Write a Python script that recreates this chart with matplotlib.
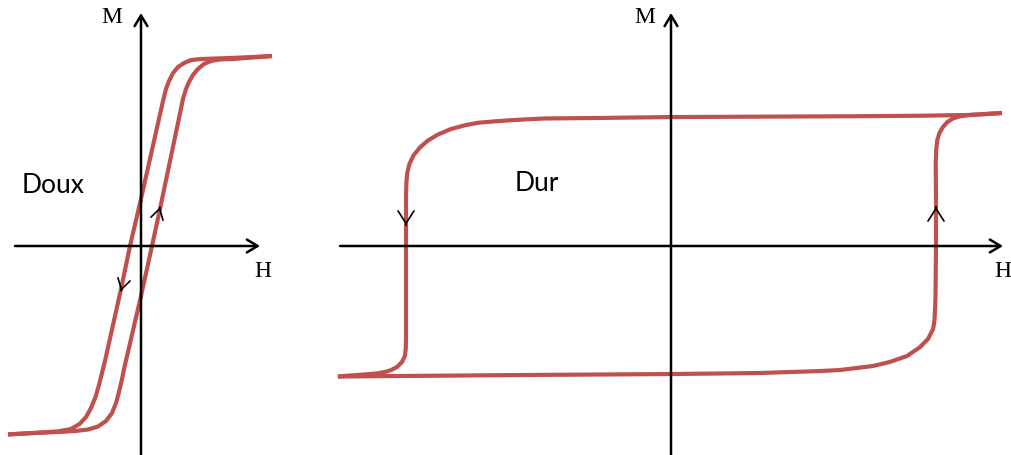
import matplotlib
matplotlib.use("Agg")
import matplotlib.pyplot as plt

# ---------------- data ----------------
# Soft magnet ("Doux"): H in units of coercive field, M in units of saturation
soft_desc_H = [11.909, 8.273, 6.727, 5.364, 4.545, 3.909, 3.364, 2.909, 2.545, 2.273, 2.0,
               0.0, -1.0, -1.818, -3.273, -3.545, -3.818, -4.136, -4.545, -5.0, -5.591,
               -6.364, -7.545, -9.636, -12.091]
soft_desc_M = [1.005, 0.995, 0.992, 0.989, 0.984, 0.968, 0.947, 0.915, 0.873, 0.831, 0.767,
               0.249, 0.0, -0.228, -0.608, -0.672, -0.735, -0.799, -0.857, -0.905, -0.942,
               -0.968, -0.981, -0.989, -0.997]
soft_asc_H = [-12.091, -9.636, -7.545, -6.0, -4.818, -3.909, -3.182, -2.636, -2.273, -2.0,
              -1.727, -1.545, 0.0, 1.0, 1.727, 3.818, 4.091, 4.364, 4.727, 5.182, 5.727,
              6.364, 7.182, 8.273, 11.909]
soft_asc_M = [-0.997, -0.989, -0.984, -0.979, -0.971, -0.955, -0.926, -0.884, -0.831, -0.772,
              -0.704, -0.651, -0.265, 0.0, 0.196, 0.778, 0.831, 0.868, 0.905, 0.937, 0.963,
              0.979, 0.987, 0.989, 1.005]

# Hard magnet ("Dur")
hard_desc_H = [1.249, 1.185, 1.128, 0.940, 0.675, 0.0, -0.268, -0.475, -0.540, -0.600, -0.664,
               -0.728, -0.777, -0.830, -0.879, -0.917, -0.947, -0.972, -0.987, -0.995, -0.998,
               -1.0, -1.0, -1.0, -1.001, -1.004, -1.015, -1.034, -1.057, -1.079, -1.106,
               -1.155, -1.211, -1.257]
hard_desc_M = [1.023, 1.015, 1.008, 1.002, 0.998, 0.992, 0.985, 0.981, 0.975, 0.968, 0.959,
               0.948, 0.929, 0.9, 0.858, 0.812, 0.759, 0.696, 0.631, 0.565, 0.5,
               0.4, 0.0, -0.715, -0.792, -0.846, -0.892, -0.931, -0.955, -0.969, -0.979,
               -0.988, -0.996, -1.004]
hard_asc_H = [-1.257, -1.023, -0.532, 0.0, 0.336, 0.562, 0.638, 0.702, 0.762, 0.826, 0.891,
              0.940, 0.970, 0.989, 0.994, 0.996, 0.998, 1.0, 1.0, 0.999, 1.001, 1.005, 1.013,
              1.026, 1.043, 1.064, 1.091, 1.128, 1.185, 1.249]
hard_asc_M = [-1.004, -1.0, -0.992, -0.985, -0.977, -0.962, -0.954, -0.938, -0.923, -0.892,
              -0.846, -0.777, -0.715, -0.638, -0.577, -0.5, -0.408, 0.0, 0.362, 0.631, 0.746,
              0.815, 0.869, 0.915, 0.954, 0.981, 0.998, 1.008, 1.015, 1.023]

# direction chevrons: (H, M, dH, dM) apex and travel direction
soft_arrows = [(1.73, 0.206, 0.22, 0.99), (-1.82, -0.238, -0.22, -0.99)]
hard_arrows = [(1.0, 0.30, 0.0, 1.0), (-1.0, 0.162, 0.0, -1.0)]

labels = {"soft": "Doux", "hard": "Dur"}

RED = "#C0504D"
W, Hpx = 1012, 456

fig = plt.figure(figsize=(W / 100, Hpx / 100), dpi=100)
fig.patch.set_facecolor("white")

# left panel: pixel x 0..290 ; origin at (141,247); 11 px per H unit, 189 px per M unit
axL = fig.add_axes([0, 0, 290 / W, 1])
axL.set_xlim((0 - 141) / 11, (290 - 141) / 11)
axL.set_ylim((247 - 456) / 189, 247 / 189)
# right panel: pixel x 310..1012 ; origin at (671,247); 265 px per H unit, 130 px per M unit
axR = fig.add_axes([310 / W, 0, 702 / W, 1])
axR.set_xlim((310 - 671) / 265, (1012 - 671) / 265)
axR.set_ylim((247 - 456) / 130, 247 / 130)

for ax in (axL, axR):
    ax.axis("off")

soft_chev = dict(arrowstyle="->,head_length=0.5,head_width=0.3", color="black",
                 lw=1.2, shrinkA=0, shrinkB=0, mutation_scale=15)
hard_chev = dict(arrowstyle="->,head_length=0.5,head_width=0.32", color="black",
                 lw=1.2, shrinkA=0, shrinkB=0, mutation_scale=18)
axis_arrow = dict(arrowstyle="->,head_length=0.55,head_width=0.33", color="black",
                  lw=1.8, shrinkA=0, shrinkB=0, mutation_scale=14)


def draw_axes(ax, hmin, hmax, mmin, mmax):
    ax.annotate("", xy=(hmax, 0), xytext=(hmin, 0), arrowprops=axis_arrow,
                annotation_clip=False, zorder=5)
    ax.annotate("", xy=(0, mmax), xytext=(0, mmin), arrowprops=axis_arrow,
                annotation_clip=False, zorder=5)


def draw_chevrons(ax, arrows, sx, sy, props):
    for h, m, dh, dm in arrows:
        ax.annotate("", xy=(h, m), xytext=(h - dh * 0.02 * sx, m - dm * 0.02 * sy),
                    arrowprops=props, zorder=6)


line_kw = dict(color=RED, lw=3, solid_capstyle="butt", solid_joinstyle="round", zorder=3)

# soft
axL.plot(soft_desc_H, soft_desc_M, **line_kw)
axL.plot(soft_asc_H, soft_asc_M, **line_kw)
draw_axes(axL, (15 - 141) / 11, (260 - 141) / 11, -1.2, (247 - 14) / 189)
draw_chevrons(axL, soft_arrows, 1.0, 0.05, soft_chev)
axL.text(-2.64, 1.212, "M", family="Liberation Serif", fontsize=17,
         ha="center", va="center")
axL.text(11.09, -0.132, "H", family="Liberation Serif", fontsize=17,
         ha="center", va="center")
axL.text(-10.82, 0.328, labels["soft"], family="Lato", fontsize=19,
         ha="left", va="center")

# hard
axR.plot(hard_desc_H, hard_desc_M, **line_kw)
axR.plot(hard_asc_H, hard_asc_M, **line_kw)
draw_axes(axR, (340 - 671) / 265, (1003 - 671) / 265, -1.7, (247 - 14) / 130)
draw_chevrons(axR, hard_arrows, 0.01, 0.05, hard_chev)
axR.text(-0.098, 1.762, "M", family="Liberation Serif", fontsize=17,
         ha="center", va="center")
axR.text(1.222, -0.192, "H", family="Liberation Serif", fontsize=17,
         ha="left", va="center", clip_on=False)
axR.text(-0.589, 0.485, labels["hard"], family="Lato", fontsize=19,
         ha="left", va="center")

fig.savefig("out.png", dpi=100, facecolor="white")
